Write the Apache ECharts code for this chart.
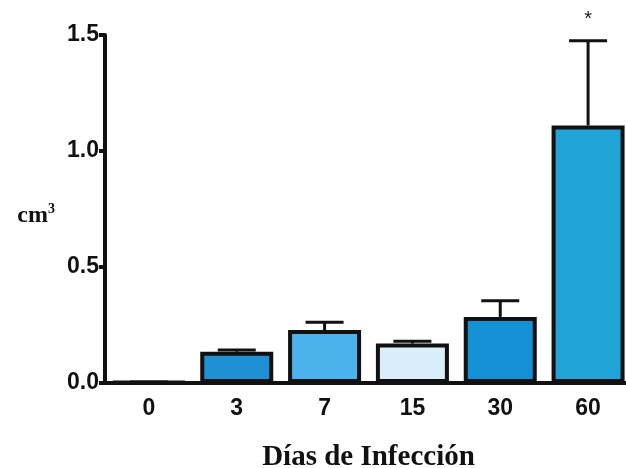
<!DOCTYPE html>
<html>
<head>
<meta charset="utf-8">
<script src="https://cdn.jsdelivr.net/npm/echarts@6/dist/echarts.min.js"></script>
<style>
  html, body { margin: 0; padding: 0; background: #fff; overflow: hidden; }
  #chart { width: 626px; height: 468px; }
</style>
</head>
<body>
<div id="chart"></div>
<script>
// Días post-infección y volumen medio (cm3) con su error estándar
const dias = ['0', '3', '7', '15', '30', '60'];
const volumen = [0.004, 0.135, 0.228, 0.17, 0.285, 1.11];
const errorSup = [0.004, 0.142, 0.262, 0.18, 0.355, 1.475];
const colores = ['#1f90d4', '#1f90d4', '#4cb2ec', '#d9eef9', '#1490d6', '#20a4d8'];
const marcas = ['', '', '', '', '', '*'];
const ticksY = [0, 0.5, 1.0, 1.5];

const chart = echarts.init(document.getElementById('chart'));

const barData = volumen.map((v, i) => ({
  value: v,
  itemStyle: { color: colores[i] }
}));

const errData = dias.map((d, i) => [i, volumen[i], errorSup[i], marcas[i]]);

chart.setOption({
  animation: false,
  grid: { left: 105, top: 35, width: 527, height: 348, containLabel: false, outerBoundsMode: 'none' },
  xAxis: {
    type: 'category',
    data: dias,
    axisLine: { lineStyle: { color: '#111', width: 4 } },
    axisTick: { alignWithLabel: true, length: 7, lineStyle: { color: '#111', width: 4 } },
    axisLabel: { color: '#111', fontFamily: 'Liberation Sans, Arial', fontWeight: 'bold', fontSize: 23, margin: 14 },
    name: 'Días de Infección',
    nameLocation: 'middle',
    nameGap: 60,
    nameTextStyle: { color: '#111', fontFamily: 'Liberation Serif, Times New Roman', fontWeight: 'bold', fontSize: 29 }
  },
  yAxis: {
    type: 'value',
    min: 0,
    max: 1.5,
    interval: 0.5,
    splitLine: { show: false },
    axisLine: { show: true, lineStyle: { color: '#111', width: 4 } },
    axisTick: { show: true, length: 6, lineStyle: { color: '#111', width: 4 } },
    axisLabel: {
      color: '#111', fontFamily: 'Liberation Sans, Arial', fontWeight: 'bold', fontSize: 23, margin: 6,
      formatter: v => ticksY.includes(v) ? v.toFixed(1) : ''
    },
    name: '{a|cm}{b|3}',
    nameLocation: 'middle',
    nameRotate: 0,
    nameGap: 50,
    nameTextStyle: {
      padding: [14, 0, 0, 0],
      rich: {
        a: { color: '#111', fontFamily: 'Liberation Serif, Times New Roman', fontWeight: 'bold', fontSize: 24 },
        b: { color: '#111', fontFamily: 'Liberation Serif, Times New Roman', fontWeight: 'bold', fontSize: 14, padding: [0, 0, 14, 0] }
      }
    }
  },
  series: [
    {
      type: 'custom',
      z: 1,
      data: errData,
      renderItem: function (params, api) {
        const top = api.coord([api.value(0), api.value(2)]);
        const base = api.coord([api.value(0), api.value(1)]);
        const half = 19;
        const children = [
          { type: 'line', shape: { x1: top[0], y1: top[1], x2: base[0], y2: base[1] }, style: { stroke: '#111', lineWidth: 3 } },
          { type: 'line', shape: { x1: top[0] - half, y1: top[1], x2: top[0] + half, y2: top[1] }, style: { stroke: '#111', lineWidth: 3 } }
        ];
        const mark = marcas[params.dataIndex];
        if (mark) {
          children.push({
            type: 'text',
            style: { text: mark, x: top[0], y: top[1] - 21, align: 'center', verticalAlign: 'middle',
                     fill: '#222', font: '20px Liberation Sans, Arial' }
          });
        }
        return { type: 'group', children: children };
      }
    },
    {
      type: 'bar',
      z: 2,
      data: barData,
      barWidth: 73,
      itemStyle: { borderColor: '#111', borderWidth: 4 }
    }
  ]
});
</script>
</body>
</html>
